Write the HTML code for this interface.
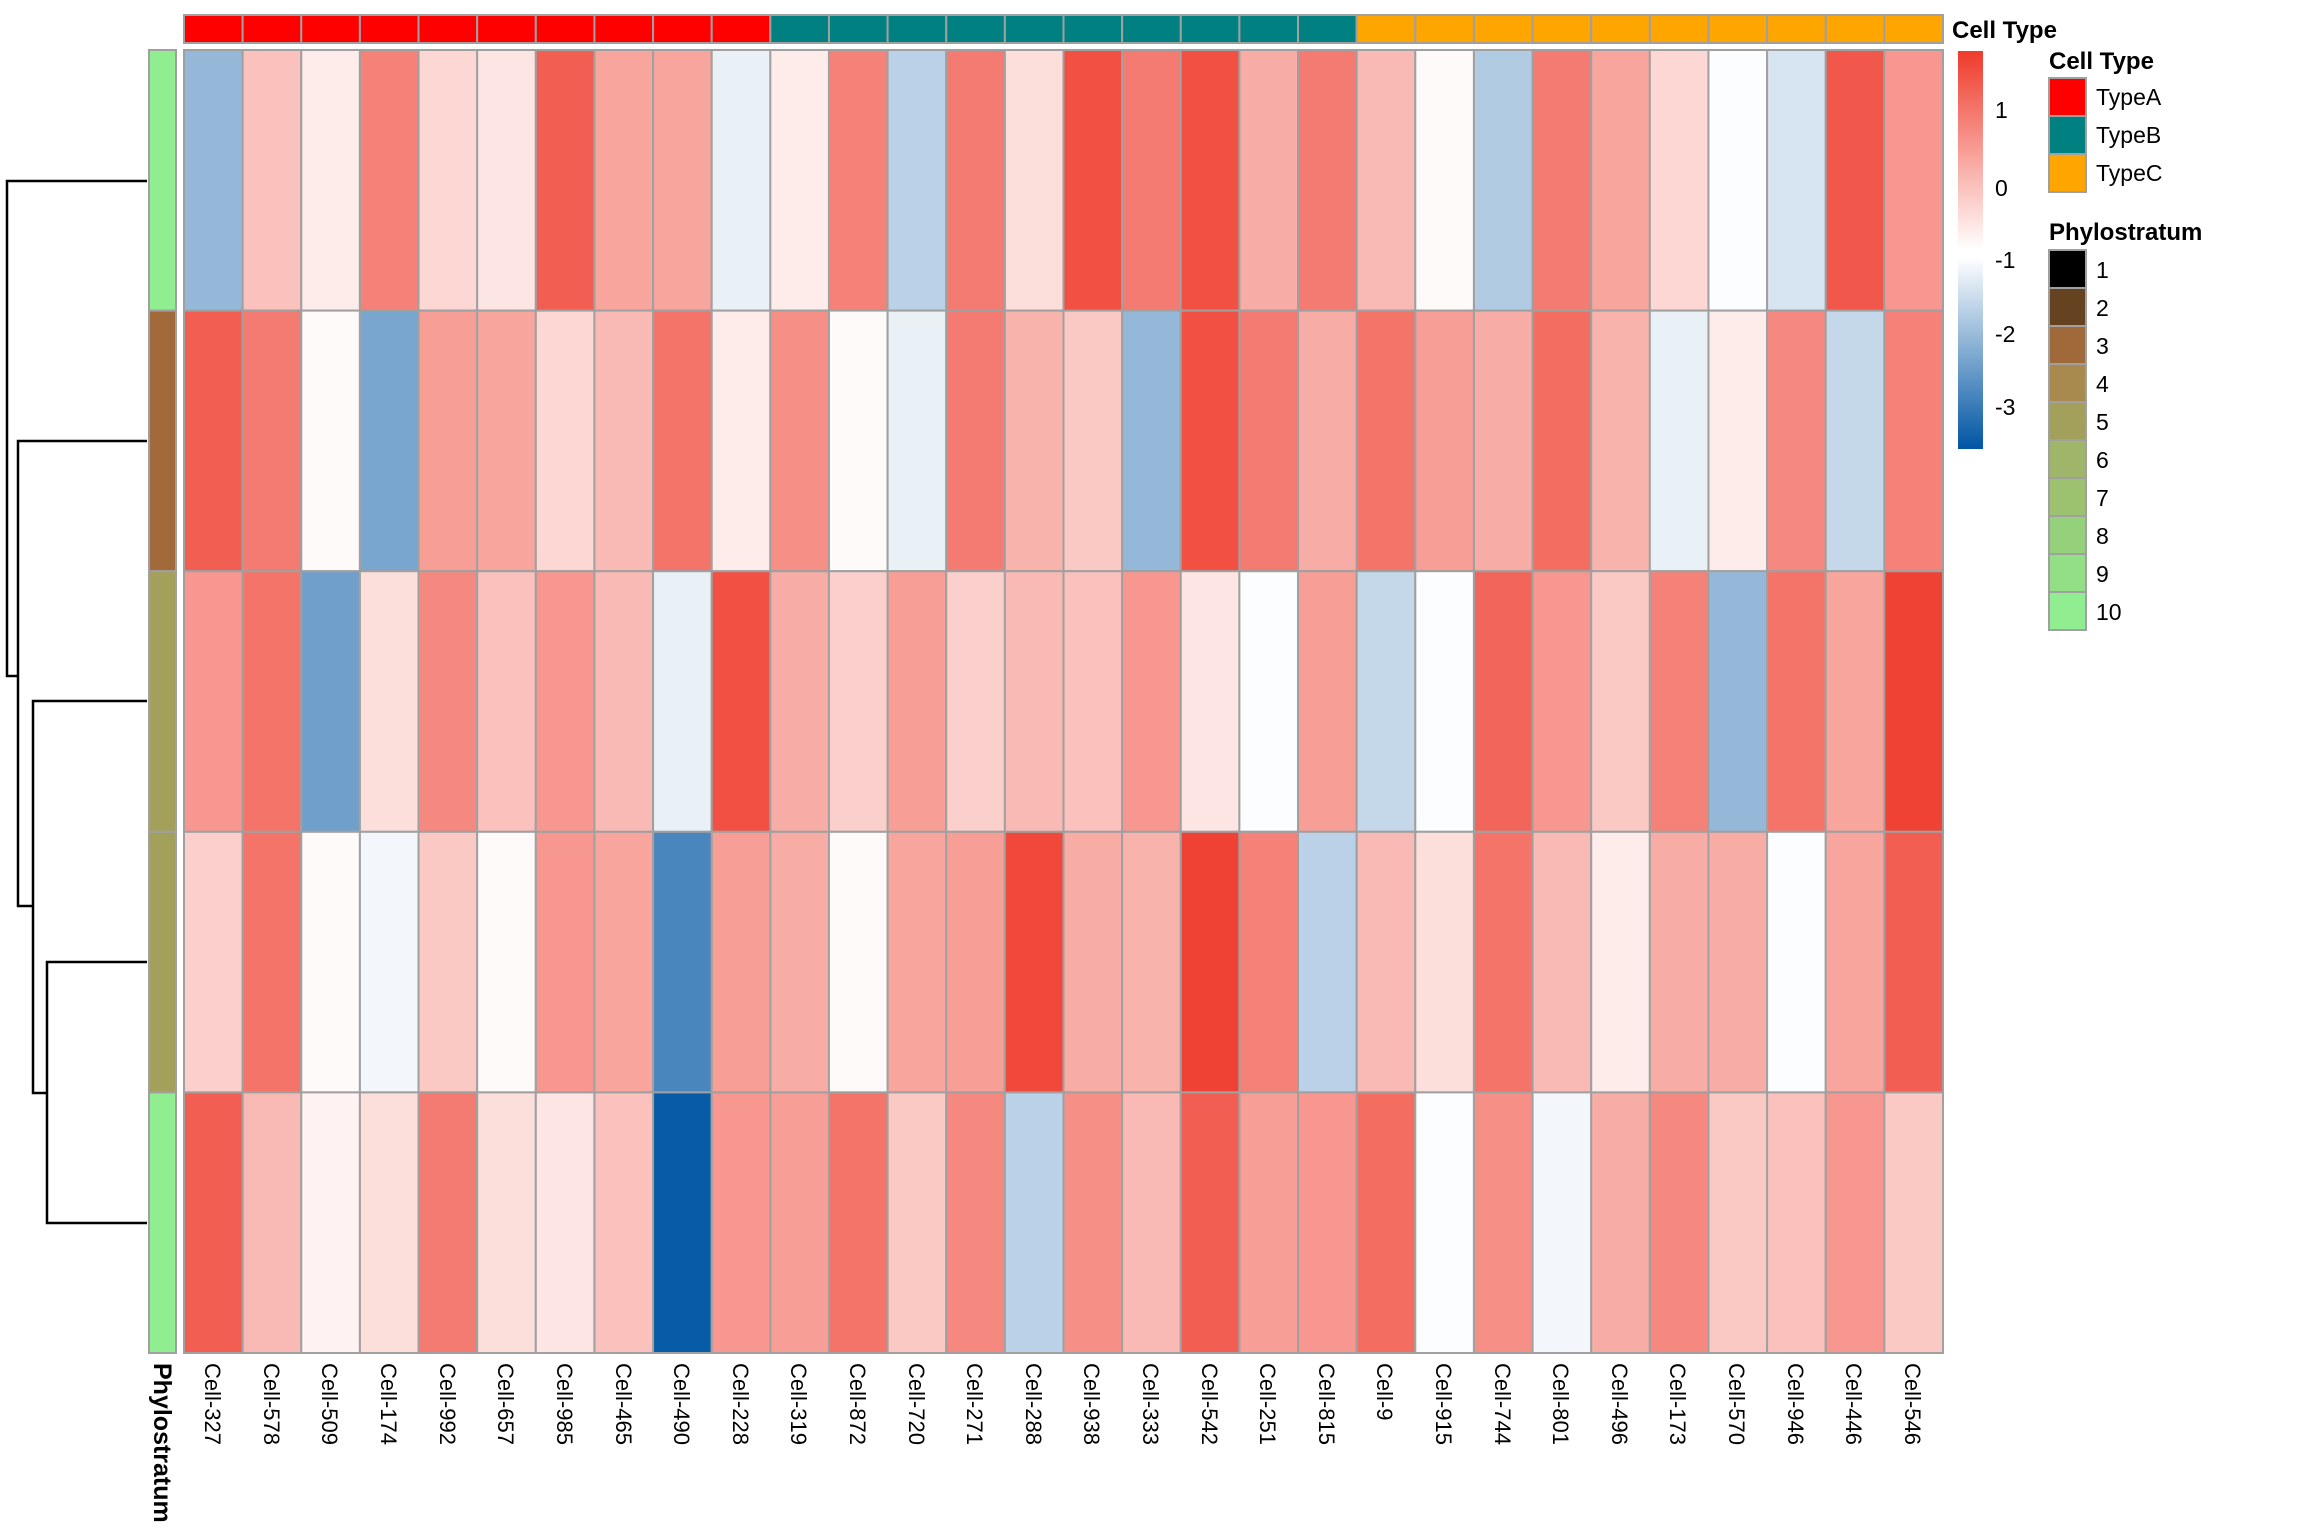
<!DOCTYPE html>
<html><head><meta charset="utf-8"><style>
html,body{margin:0;padding:0;background:#fff;}
svg{display:block;font-family:"Liberation Sans",sans-serif;}
</style></head><body>
<svg id="s" width="2304" height="1536" viewBox="0 0 2304 1536" xmlns="http://www.w3.org/2000/svg">
<defs><linearGradient id="cb" x1="0" y1="0" x2="0" y2="1">
<stop offset="0" stop-color="#EF3B2C"/>
<stop offset="0.5" stop-color="#FFFFFF"/>
<stop offset="0.52" stop-color="#FFFFFF"/>
<stop offset="1" stop-color="#0055A4"/>
</linearGradient></defs>
<g id="cells"></g>
<g id="ann"></g>
<g stroke="#000" stroke-width="2.5" fill="none">
<path d="M147,181 H7 V676 H18"/>
<path d="M147,441 H18 V906 H33"/>
<path d="M147,701 H33 V1093 H47"/>
<path d="M147,962 H47 V1223 H147"/>
</g>
<rect x="1958" y="51" width="25" height="398" fill="url(#cb)"/>
<g font-size="23" fill="#000">
<text x="1995" y="118">1</text>
<text x="1995" y="196">0</text>
<text x="1995" y="268">-1</text>
<text x="1995" y="342">-2</text>
<text x="1995" y="415">-3</text>
</g>
<text x="1952" y="38" font-size="24" font-weight="bold">Cell Type</text>
<text x="2049" y="69" font-size="24" font-weight="bold">Cell Type</text>
<g stroke="#A0A0A0" stroke-width="2">
<rect x="2049" y="78" width="37" height="38" fill="#FF0000"/>
<rect x="2049" y="116" width="37" height="38" fill="#008080"/>
<rect x="2049" y="154" width="37" height="38" fill="#FFA500"/>
</g>
<g font-size="23"><text x="2096" y="105">TypeA</text><text x="2096" y="143">TypeB</text><text x="2096" y="181">TypeC</text></g>
<text x="2049" y="240" font-size="24" font-weight="bold">Phylostratum</text>
<g id="phy" stroke="#A0A0A0" stroke-width="2"></g>
<g font-size="23">
<text x="2096" y="278">1</text><text x="2096" y="316">2</text><text x="2096" y="354">3</text><text x="2096" y="392">4</text><text x="2096" y="430">5</text><text x="2096" y="468">6</text><text x="2096" y="506">7</text><text x="2096" y="544">8</text><text x="2096" y="582">9</text><text x="2096" y="620">10</text>
</g>
<g font-size="22">
<text transform="translate(205,1363) rotate(90)">Cell-327</text>
<text transform="translate(264,1363) rotate(90)">Cell-578</text>
<text transform="translate(322,1363) rotate(90)">Cell-509</text>
<text transform="translate(381,1363) rotate(90)">Cell-174</text>
<text transform="translate(440,1363) rotate(90)">Cell-992</text>
<text transform="translate(498,1363) rotate(90)">Cell-657</text>
<text transform="translate(557,1363) rotate(90)">Cell-985</text>
<text transform="translate(616,1363) rotate(90)">Cell-465</text>
<text transform="translate(674,1363) rotate(90)">Cell-490</text>
<text transform="translate(733,1363) rotate(90)">Cell-228</text>
<text transform="translate(791,1363) rotate(90)">Cell-319</text>
<text transform="translate(850,1363) rotate(90)">Cell-872</text>
<text transform="translate(909,1363) rotate(90)">Cell-720</text>
<text transform="translate(967,1363) rotate(90)">Cell-271</text>
<text transform="translate(1026,1363) rotate(90)">Cell-288</text>
<text transform="translate(1084,1363) rotate(90)">Cell-938</text>
<text transform="translate(1143,1363) rotate(90)">Cell-333</text>
<text transform="translate(1202,1363) rotate(90)">Cell-542</text>
<text transform="translate(1260,1363) rotate(90)">Cell-251</text>
<text transform="translate(1319,1363) rotate(90)">Cell-815</text>
<text transform="translate(1377,1363) rotate(90)">Cell-9</text>
<text transform="translate(1436,1363) rotate(90)">Cell-915</text>
<text transform="translate(1495,1363) rotate(90)">Cell-744</text>
<text transform="translate(1553,1363) rotate(90)">Cell-801</text>
<text transform="translate(1612,1363) rotate(90)">Cell-496</text>
<text transform="translate(1670,1363) rotate(90)">Cell-173</text>
<text transform="translate(1729,1363) rotate(90)">Cell-570</text>
<text transform="translate(1788,1363) rotate(90)">Cell-946</text>
<text transform="translate(1846,1363) rotate(90)">Cell-446</text>
<text transform="translate(1905,1363) rotate(90)">Cell-546</text>
</g>
<text transform="translate(154,1363) rotate(90)" font-size="25" font-weight="bold">Phylostratum</text>
</svg>
<script>
(function(){
var NS="http://www.w3.org/2000/svg";
var V=[
[-2.0,0.0,-0.6,0.9,-0.3,-0.5,1.4,0.4,0.4,-1.1,-0.6,0.9,-1.6,1.0,-0.4,1.6,1.0,1.6,0.3,1.0,0.1,-0.8,-1.7,1.0,0.4,-0.3,-0.9,-1.3,1.5,0.6],
[1.4,1.0,-0.8,-2.3,0.5,0.4,-0.3,0.1,1.1,-0.6,0.7,-0.8,-1.1,1.0,0.2,-0.1,-2.0,1.6,1.0,0.3,1.1,0.5,0.3,1.2,0.2,-1.1,-0.6,0.8,-1.5,0.9],
[0.6,1.1,-2.4,-0.4,0.8,0.0,0.6,0.1,-1.1,1.6,0.3,-0.2,0.5,-0.2,0.1,0.0,0.6,-0.5,-0.9,0.5,-1.5,-0.9,1.3,0.6,-0.1,0.9,-2.0,1.1,0.4,1.8],
[-0.2,1.1,-0.8,-1.0,-0.1,-0.8,0.6,0.4,-2.8,0.5,0.3,-0.8,0.4,0.5,1.7,0.3,0.2,1.8,0.9,-1.6,0.1,-0.4,1.1,0.1,-0.6,0.3,0.3,-0.9,0.4,1.4],
[1.4,0.1,-0.7,-0.4,1.0,-0.4,-0.5,0.0,-3.5,0.6,0.5,1.1,-0.1,0.8,-1.6,0.7,0.1,1.4,0.5,0.6,1.2,-0.9,0.7,-1.0,0.3,0.8,-0.1,0.0,0.6,-0.1]];
function col(v){var w=-0.87,r,g,b,t;
 if(v>=w){t=Math.min(1,(v-w)/(1.9-w));r=255+t*(239-255);g=255+t*(59-255);b=255+t*(44-255);}
 else{t=Math.min(1,(w-v)/(w+3.59));r=255*(1-t);g=255+t*(85-255);b=255+t*(164-255);}
 return "rgb("+Math.round(r)+","+Math.round(g)+","+Math.round(b)+")";}
var x0=184,y0=50,cw=(1943-184)/30,rh=(1353-50)/5;
var G=document.getElementById("cells");
function R(p,x,y,w,h,f){var e=document.createElementNS(NS,"rect");e.setAttribute("x",x);e.setAttribute("y",y);e.setAttribute("width",w);e.setAttribute("height",h);e.setAttribute("fill",f);e.setAttribute("stroke","#A0A0A0");e.setAttribute("stroke-width","2");p.appendChild(e);}
for(var i=0;i<5;i++)for(var j=0;j<30;j++)R(G,x0+j*cw,y0+i*rh,cw,rh,col(V[i][j]));
var A=document.getElementById("ann");
for(var j=0;j<30;j++)R(A,x0+j*cw,15,cw,28,j<10?"#FF0000":(j<20?"#008080":"#FFA500"));
var rc=["#90EE90","#A26A3B","#A2A05A","#A2A05A","#90EE90"];
for(var i=0;i<5;i++)R(A,149,y0+i*rh,27,rh,rc[i]);
var pc=["#000000","#654321","#A0693A","#A88A4E","#A3A05B","#9EB56A","#9CC270","#95D07A","#92DF86","#90EE90"];
var P=document.getElementById("phy");
for(var k=0;k<10;k++)R(P,2049,250+k*38,37,38,pc[k]);
})();
</script>
</body></html>
